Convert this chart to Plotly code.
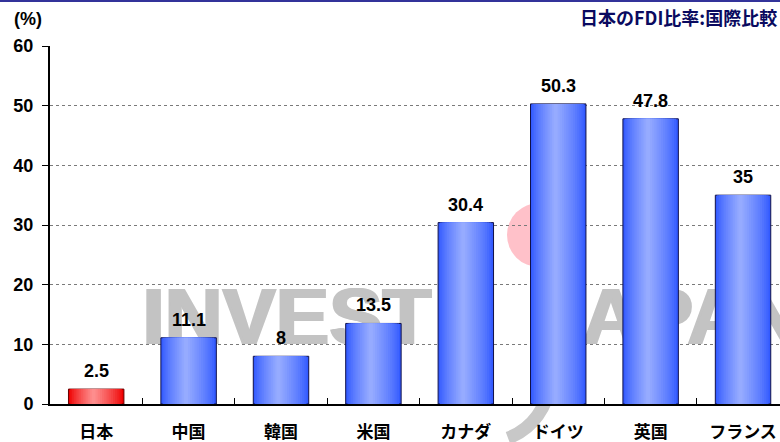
import plotly.graph_objects as go

categories = ["日本", "中国", "韓国", "米国", "カナダ", "ドイツ", "英国", "フランス"]
values = [2.5, 11.1, 8, 13.5, 30.4, 50.3, 47.8, 35]
value_labels = ["2.5", "11.1", "8", "13.5", "30.4", "50.3", "47.8", "35"]
y_ticks = [0, 10, 20, 30, 40, 50, 60]
highlight = "日本"

LAT = "Liberation Sans, Arial, Noto Sans CJK JP"
CJK = "Noto Sans CJK JP, Liberation Sans"

def mix(c1, c2, t):
    return "rgb(%d,%d,%d)" % tuple(round(a + (b - a) * t) for a, b in zip(c1, c2))

blue_edge, blue_mid = (50, 90, 255), (156, 176, 255)
red_edge, red_mid = (238, 0, 0), (255, 150, 150)

fig = go.Figure()

L, R = -0.3, 0.3
c = L + (R - L) * 0.45
K = 14
for k in range(K):
    t = k / K
    left = L + (c - L) * t
    right = R - (R - c) * t
    tt = t ** 0.8
    cols = [mix(red_edge, red_mid, tt) if cat == highlight else mix(blue_edge, blue_mid, tt)
            for cat in categories]
    line_cols = ["#660000" if cat == highlight else "#10104a" for cat in categories]
    fig.add_trace(go.Bar(
        x=categories, y=values, offset=left, width=right - left,
        marker=dict(color=cols,
                    line=dict(color=line_cols if k == 0 else cols, width=1 if k == 0 else 0)),
        hoverinfo="skip" if k else None, showlegend=False,
    ))

for cat, v, lab in zip(categories, values, value_labels):
    fig.add_annotation(x=cat, y=v, text="<b>%s</b>" % lab, showarrow=False,
                       yanchor="bottom", yshift=6,
                       font=dict(family=LAT, size=18, color="black"))

# watermark (INVEST JAPAN logo)
def px_x(px):
    return (px - 50) / 730

def px_y(py):
    return (404 - py) / 358

wm_font = dict(family="Liberation Sans, Arial", size=80, color="#c3c3c3", weight="bold")
for word, x_left in (("INVEST", 138), ("JAPAN", 533)):
    for dx in (0, 1.5, 3):
        fig.add_shape(type="rect", xref="paper", yref="paper", layer="below",
                      x0=px_x(x_left + dx), x1=px_x(x_left + dx + 380),
                      y0=px_y(348), y1=px_y(268),
                      line=dict(width=0), fillcolor="rgba(0,0,0,0)",
                      label=dict(text=word, textposition="middle left", font=wm_font, padding=0))
fig.add_shape(type="circle", xref="paper", yref="paper", layer="below",
              x0=px_x(507), x1=px_x(571), y0=px_y(267), y1=px_y(203),
              line=dict(width=0), fillcolor="#ffc1c9")
fig.add_shape(type="path", xref="paper", yref="paper", layer="below",
              path="M %f,%f Q %f,%f %f,%f" % (px_x(552), px_y(380), px_x(543), px_y(425),
                                               px_x(508), px_y(438)),
              line=dict(color="#c8c8c8", width=13))

# top rule, titles
fig.add_shape(type="line", xref="paper", yref="paper", x0=-1, x1=2, y0=px_y(1), y1=px_y(1),
              line=dict(color="#33339a", width=2))
fig.add_annotation(xref="paper", yref="paper", x=px_x(12), y=px_y(19), xanchor="left",
                   yanchor="middle", text="<b>(%)</b>", showarrow=False,
                   font=dict(family=LAT, size=18, color="black"))
fig.add_annotation(xref="paper", yref="paper", x=px_x(779), y=px_y(17), xanchor="right",
                   yanchor="middle", text="<b>日本のFDI比率:国際比較</b>", showarrow=False,
                   font=dict(family=CJK, size=18, color="#0a0a60", weight="bold"))

fig.update_layout(
    width=780, height=442,
    margin=dict(l=50, r=0, t=46, b=38),
    paper_bgcolor="white", plot_bgcolor="white",
    barmode="overlay", bargap=0.4,
    showlegend=False,
    xaxis=dict(type="category", range=[-0.5, 7.4], showgrid=False,
               showline=True, linecolor="black", linewidth=2,
               ticks="inside", tickson="boundaries", ticklen=6, tickcolor="black", tickwidth=1,
               tickfont=dict(family=CJK, size=17, color="black", weight="bold"),
               ticklabelstandoff=12),
    yaxis=dict(range=[0, 60], tickvals=y_ticks, showgrid=True, gridcolor="#7a7a7a",
               griddash="dot", gridwidth=1, zeroline=False,
               showline=True, linecolor="black", linewidth=2,
               ticks="outside", ticklen=6, tickcolor="black",
               tickfont=dict(family=LAT, size=18, color="black", weight="bold"),
               ticklabelstandoff=5),
)

fig.write_html("out.html", config={"displayModeBar": False},
               post_script="document.body.style.margin='0';document.body.style.overflow='hidden';")
